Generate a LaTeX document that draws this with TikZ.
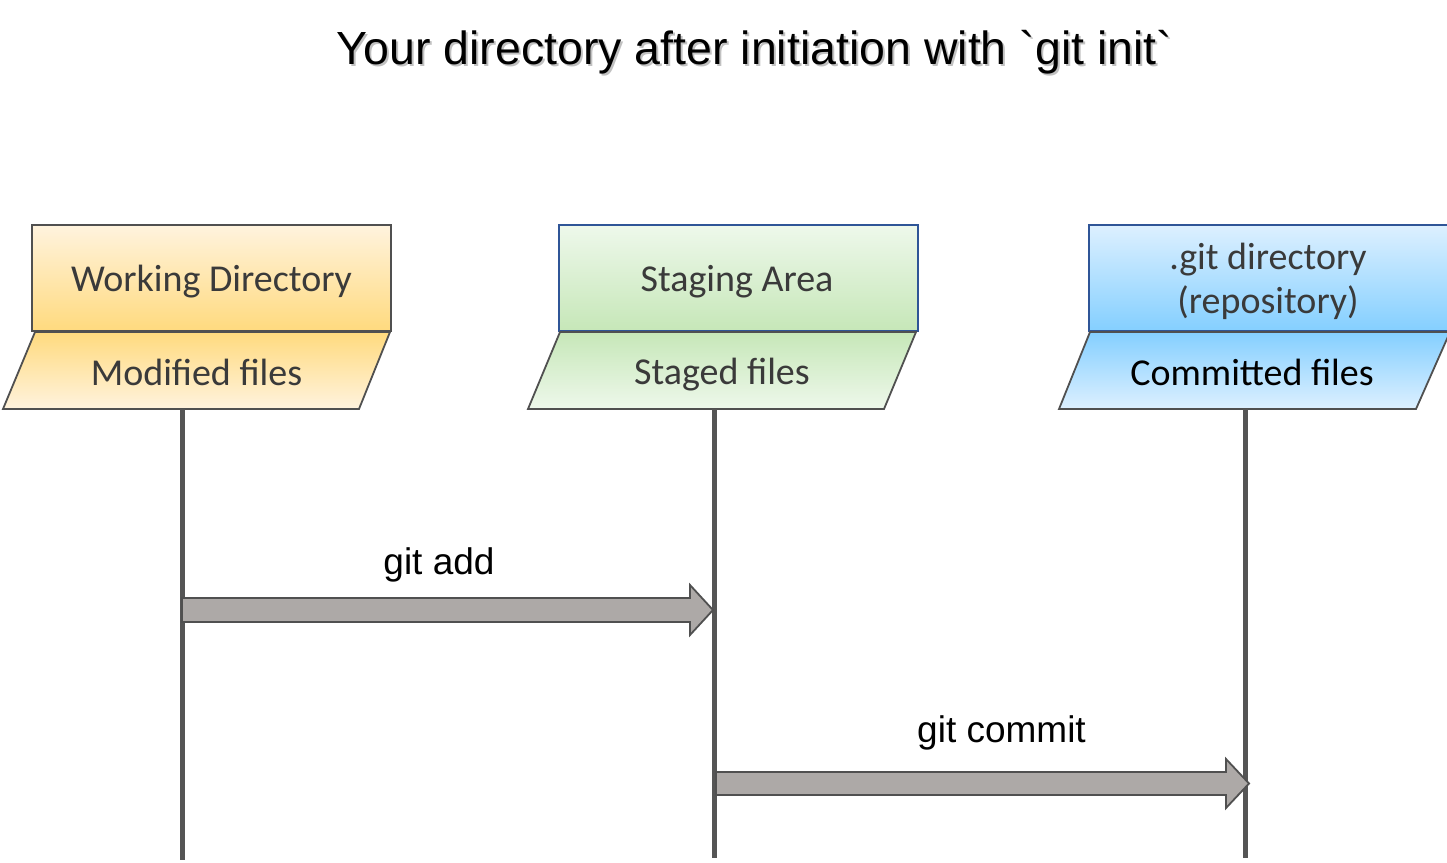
\documentclass[tikz,border=0pt]{standalone}
\usepackage{fontspec}
\setmainfont{Liberation Sans}
\newfontfamily\titlefont{Liberation Sans}[Ligatures=TeXOff]
\newfontfamily\calib{Carlito}
\usetikzlibrary{calc}
\definecolor{edge}{HTML}{505050}
\definecolor{blueedge}{HTML}{2F5597}
\definecolor{lifeline}{HTML}{555555}
\definecolor{arrfill}{HTML}{ADA9A7}
\definecolor{labtext}{HTML}{3A3A3A}
\definecolor{yA}{HTML}{FFF3DE}
\definecolor{yB}{HTML}{FFDA7E}
\definecolor{gA}{HTML}{EEF8EB}
\definecolor{gB}{HTML}{C6E7B8}
\definecolor{bA}{HTML}{DDF0FF}
\definecolor{bB}{HTML}{84CFFF}
\tikzset{
  lab/.style={font=\calib\fontsize{38}{44}\selectfont, text=labtext, align=center, inner sep=0pt},
  cmd/.style={font=\fontsize{37}{44}\selectfont, text=black, anchor=base, inner sep=0pt},
  lifelinestyle/.style={draw=lifeline, line width=5pt},
  fatarrow/.style={fill=arrfill, draw=edge, line width=1.8pt, line join=miter},
  parbox/.style={draw=edge, line width=1.8pt},
  titlestyle/.style={font=\titlefont\fontsize{46.5}{54}\selectfont, anchor=base, inner sep=0pt},
}
\begin{document}
\begin{tikzpicture}[x=1pt,y=-1pt]
\useasboundingbox (0,0) rectangle (1447,862);

% title
\node[titlestyle, text=black!35, opacity=0.7] (titleshadow) at (756.5,66.5) {Your directory after initiation with `git init`};
\node[titlestyle] (title) at (754.5,64) {Your directory after initiation with `git init`};

% ---------- Working directory ----------
\shade[top color=yA, bottom color=yB] (32,225) rectangle (391,331);
\draw[draw=edge, line width=1.8pt] (32,225) rectangle (391,331);
\node[lab] (wd) at (211.5,282) {Working Directory};
\shade[top color=yB, bottom color=yA] (35,332) -- (390,332) -- (359,409) -- (3,409) -- cycle;
\draw[parbox] (35,332) -- (390,332) -- (359,409) -- (3,409) -- cycle;
\node[lab] (mf) at (196.5,372) {Modified files};
\coordinate (wdtop) at (182,409);
\coordinate (wdbot) at (182,860);

% ---------- Staging area ----------
\shade[top color=gA, bottom color=gB] (559,225) rectangle (918,331);
\draw[draw=blueedge, line width=1.5pt] (559,225) rectangle (918,331);
\node[lab] (sa) at (737,282) {Staging Area};
\shade[top color=gB, bottom color=gA] (560,332) -- (916,332) -- (884,409) -- (528,409) -- cycle;
\draw[parbox] (560,332) -- (916,332) -- (884,409) -- (528,409) -- cycle;
\node[lab] (sf) at (722,375) {Staged files};
\coordinate (satop) at (714,409);
\coordinate (sabot) at (714,858);

% ---------- .git directory ----------
\shade[top color=bA, bottom color=bB] (1089,225) rectangle (1450,331);
\draw[draw=blueedge, line width=1.5pt] (1089,225) rectangle (1450,331);
\node[lab] (gd) at (1268,281) {.git directory\\(repository)};
\shade[top color=bB, bottom color=bA] (1090,332) -- (1450,332) -- (1416,409) -- (1059,409) -- cycle;
\draw[parbox] (1090,332) -- (1450,332) -- (1416,409) -- (1059,409) -- cycle;
\node[lab, text=black] (cf) at (1252,372) {Committed files};
\coordinate (gdtop) at (1245,409);
\coordinate (gdbot) at (1245,858);

% lifelines
\draw[lifelinestyle] (wdtop) -- (wdbot);
\draw[lifelinestyle] (satop) -- (sabot);
\draw[lifelinestyle] (gdtop) -- (gdbot);

% git add arrow
\coordinate (a1s) at (182,610);
\coordinate (a1e) at (713,610);
\draw[fatarrow] ($(a1s)+(0,-12)$) -- ($(a1e)+(-23,-12)$) -- ($(a1e)+(-23,-25)$) -- (a1e)
  -- ($(a1e)+(-23,25)$) -- ($(a1e)+(-23,12)$) -- ($(a1s)+(0,12)$) -- cycle;
\node[cmd] (addlab) at (439,574) {git add};

% git commit arrow
\coordinate (a2s) at (716,783.5);
\coordinate (a2e) at (1249,783.5);
\draw[fatarrow] ($(a2s)+(0,-11.5)$) -- ($(a2e)+(-23,-11.5)$) -- ($(a2e)+(-23,-24.5)$) -- (a2e)
  -- ($(a2e)+(-23,24.5)$) -- ($(a2e)+(-23,11.5)$) -- ($(a2s)+(0,11.5)$) -- cycle;
\node[cmd] (commitlab) at (1001.5,742) {git commit};
\end{tikzpicture}
\end{document}
